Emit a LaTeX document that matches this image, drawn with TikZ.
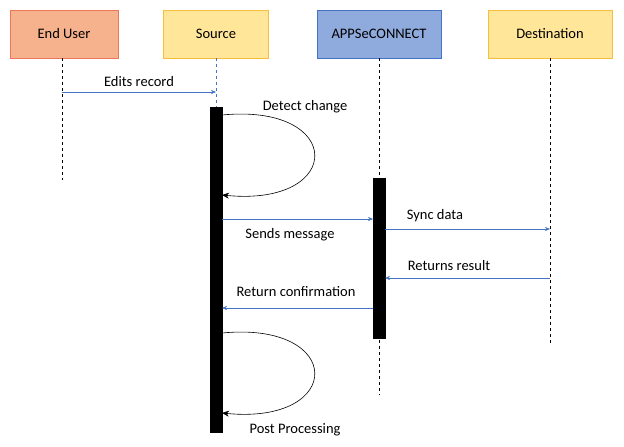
\documentclass[tikz,border=0pt]{standalone}
\usepackage{fontspec}
\setmainfont{Carlito}
\usetikzlibrary{arrows.meta,positioning}
\definecolor{userfill}{RGB}{246,178,140}
\definecolor{userdraw}{RGB}{235,120,90}
\definecolor{srcfill}{RGB}{255,230,153}
\definecolor{srcdraw}{RGB}{245,190,60}
\definecolor{appfill}{RGB}{143,170,220}
\definecolor{appdraw}{RGB}{68,114,196}
\definecolor{msgblue}{RGB}{68,114,196}
\tikzset{
    actor/.style={
           rectangle,
           draw, thick,
           minimum height=48pt,
           text centered,
           font=\fontsize{14.5}{16}\selectfont,
           },
    life/.style={dashed, black, thin},
    bar/.style={fill=black, draw=black},
    msg/.style={-{Stealth[length=5pt,width=4pt]}, msgblue, thin},
    self/.style={-{Stealth[length=7pt,width=6pt]}, black, semithick},
    lbl/.style={text=black, font=\fontsize{14.5}{16}\selectfont},
}
\begin{document}
\begin{tikzpicture}[x=1pt,y=-1pt]
    \useasboundingbox (0,0) rectangle (624,447);

    \node[actor,fill=userfill,draw=userdraw,minimum width=108pt] (U) at (64,34) {End User};
    \node[actor,fill=srcfill,draw=srcdraw,minimum width=105pt] (S) at (216,34) {Source};
    \node[actor,fill=appfill,draw=appdraw,minimum width=124pt] (A) at (379,34) {APPSeCONNECT};
    \node[actor,fill=srcfill,draw=srcdraw,minimum width=124pt] (D) at (550,34) {Destination};

    % lifelines
    \coordinate (Uend) at (62,180);
    \coordinate (Send) at (216,107);
    \coordinate (Aend) at (379,395);
    \coordinate (Dend) at (550,345);
    \draw[life] (U.south -| Uend) -- (Uend);
    \draw[life, msgblue] (S.south) -- (Send);
    \draw[life] (A.south) -- (Aend);
    \draw[life] (D.south) -- (Dend);

    % activation bars
    \draw[bar] (210,107) rectangle (222,432);
    \draw[bar] (373,178) rectangle (385,338);

    % messages
    \coordinate (m1a) at (62,92);   \coordinate (m1b) at (216,92);
    \draw[msg] (m1a) -- (m1b) node[lbl,midway,above=2pt] {Edits record};

    \coordinate (l1a) at (222,115); \coordinate (l1b) at (222,195);
    \draw[self] (l1a) .. controls (345,103) and (345,207) .. (l1b);
    \node[lbl] (L1) at (305,107) {Detect change};

    \coordinate (m2a) at (222,219); \coordinate (m2b) at (373,219);
    \draw[msg] (m2a) -- (m2b);
    \node[lbl] (L2) at (290,235) {Sends message};

    \coordinate (m3a) at (385,229); \coordinate (m3b) at (550,229);
    \draw[msg] (m3a) -- (m3b);
    \node[lbl] (L3) at (435,216) {Sync data};

    \coordinate (m4a) at (550,278); \coordinate (m4b) at (385,278);
    \draw[msg] (m4a) -- (m4b);
    \node[lbl] (L4) at (449,266) {Returns result};

    \coordinate (m5a) at (373,308); \coordinate (m5b) at (222,308);
    \draw[msg] (m5a) -- (m5b);
    \node[lbl] (L5) at (296,292) {Return confirmation};

    \coordinate (l2a) at (222,333); \coordinate (l2b) at (222,413);
    \draw[self] (l2a) .. controls (345,321) and (345,425) .. (l2b);
    \node[lbl] (L6) at (295,430) {Post Processing};

\end{tikzpicture}
\end{document}
